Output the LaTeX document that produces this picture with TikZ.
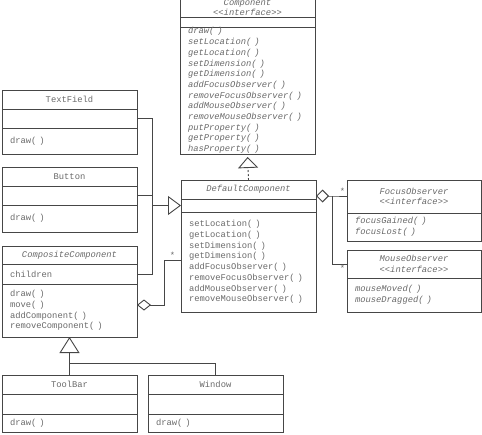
\documentclass[tikz,border=0pt]{standalone}
\usepackage{fontspec}
\newfontfamily\umlfont{Liberation Mono}
\usetikzlibrary{positioning, arrows.meta}
\definecolor{ink}{RGB}{70,70,70}
\definecolor{txt}{RGB}{105,105,105}
\newcommand\umlsize{\umlfont\fontsize{8.8pt}{10.7pt}\selectfont}
\tikzstyle{cls} = [draw=ink, rectangle, line width=0.9pt, minimum width=135pt, inner xsep=8pt, inner ysep=0pt, outer sep=0pt, font=\umlsize, text=txt]
\tikzstyle{head} = [cls, align=center]
\tikzstyle{body} = [cls, text width=119pt, align=left]
\tikzstyle{abs} = [font=\umlsize\itshape]
\tikzstyle{mult} = [font=\umlsize, text=txt, inner sep=1pt]
\tikzstyle{line} = [draw=ink, line width=0.9pt]
\tikzstyle{gen} = [line, -{Triangle[open, length=16pt, width=20pt]}]
\tikzstyle{aggr} = [line, -{Diamond[open, length=14pt, width=11pt]}]

\begin{document}
\begin{tikzpicture}[x=1pt, y=-1pt]
	\useasboundingbox (0,0) rectangle (482,434);

	% Component interface
	\node [head, abs, minimum height=18pt, anchor=north west] (compN) at (180,-1) {Component\\[-0.7pt]<{}<interface>{}>};
	\node [cls, minimum height=10pt, below=0pt of compN] (compA) {};
	\node [body, abs, minimum height=127pt, below=0pt of compA] (compM) {draw( )\\setLocation( )\\getLocation( )\\setDimension( )\\getDimension( )\\addFocusObserver( )\\removeFocusObserver( )\\addMouseObserver( )\\removeMouseObserver( )\\putProperty( )\\getProperty( )\\hasProperty( )};

	% left column
	\node [head, minimum height=19pt, anchor=north west] (tfN) at (2,90) {TextField};
	\node [cls, minimum height=19pt, below=0pt of tfN] (tfA) {};
	\node [body, minimum height=26pt, below=0pt of tfA] (tfM) {draw( )};

	\node [head, minimum height=19pt, anchor=north west] (btN) at (2,167) {Button};
	\node [cls, minimum height=19pt, below=0pt of btN] (btA) {};
	\node [body, minimum height=27pt, below=0pt of btA] (btM) {draw( )};

	\node [head, abs, minimum height=18pt, anchor=north west] (ccN) at (2,246) {CompositeComponent};
	\node [body, minimum height=20pt, below=0pt of ccN] (ccA) {children};
	\node [body, minimum height=53pt, below=0pt of ccA] (ccM) {draw( )\\move( )\\addComponent( )\\removeComponent( )};

	\node [head, minimum height=19pt, anchor=north west] (tbN) at (2,375) {ToolBar};
	\node [cls, minimum height=20pt, below=0pt of tbN] (tbA) {};
	\node [body, minimum height=18pt, below=0pt of tbA] (tbM) {draw( )};

	\node [head, minimum height=19pt, anchor=north west] (wnN) at (148,375) {Window};
	\node [cls, minimum height=20pt, below=0pt of wnN] (wnA) {};
	\node [body, minimum height=18pt, below=0pt of wnA] (wnM) {draw( )};

	% DefaultComponent
	\node [head, abs, minimum height=19pt, anchor=north west] (dcN) at (181,180) {DefaultComponent};
	\node [cls, minimum height=13pt, below=0pt of dcN] (dcA) {};
	\node [body, minimum height=100pt, below=0pt of dcA] (dcM) {setLocation( )\\getLocation( )\\setDimension( )\\getDimension( )\\addFocusObserver( )\\removeFocusObserver( )\\addMouseObserver( )\\removeMouseObserver( )};

	% observers
	\node [head, abs, minimum width=134pt, minimum height=33pt, anchor=north west] (foN) at (347,180) {FocusObserver\\<{}<interface>{}>};
	\node [body, abs, minimum width=134pt, text width=118pt, minimum height=28pt, below=0pt of foN] (foM) {focusGained( )\\focusLost( )};

	\node [head, abs, minimum width=134pt, minimum height=28pt, anchor=north west] (moN) at (347,250) {MouseObserver\\<{}<interface>{}>};
	\node [body, abs, minimum width=134pt, text width=118pt, minimum height=34pt, below=0pt of moN] (moM) {mouseMoved( )\\mouseDragged( )};

	\coordinate (jn) at (152,205.5);
	\coordinate (agT) at (164,260);
	\coordinate (agL) at (164,305);
	\coordinate (ob) at (332,196);
	\coordinate (gj) at (69.5,363);

	\path [line, dash pattern=on 2pt off 2pt, -{Triangle[open, length=11pt, width=20pt]}, shorten >=3pt] (dcN.north) -- (compM.south);
	\path [line] (tfA.east) -| (jn);
	\path [line] (btA.east) -- (btA.east -| jn);
	\path [line] (ccA.east) -| (jn);
	\path [line, -{Triangle[open, length=13pt, width=19pt]}] (jn) -- (dcA.west);
	\path [aggr] (agT -| dcM.west) -- node [mult, above] {*} (agT) -- (agL) -- (agL -| ccM.east);
	\path [line, {Diamond[open, length=13pt, width=13pt]}-] (ob -| dcN.east) -- (ob) -- node [mult, pos=0.7, above] {*} (ob -| foN.west);
	\path [line] (ob) |- node [mult, pos=0.85, below] {*} (moN.west);
	\path [gen] (tbN.north) -- (ccM.south);
	\path [line] (wnN.north) |- (gj);
\end{tikzpicture}
\end{document}
